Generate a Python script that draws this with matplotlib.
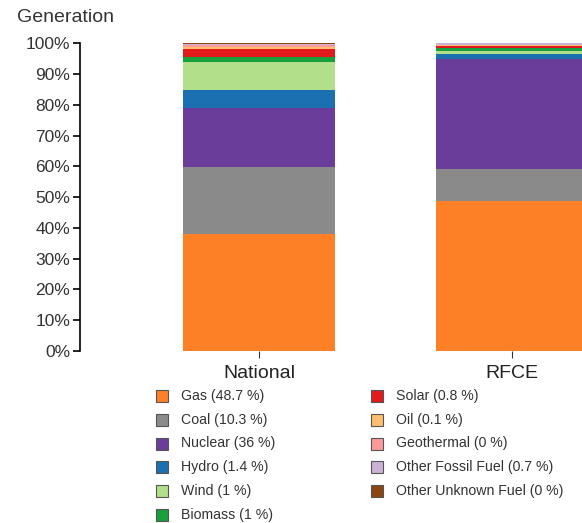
import matplotlib
matplotlib.use("Agg")
import matplotlib.pyplot as plt
from matplotlib.patches import Rectangle

plt.rcParams['font.family'] = ['Liberation Sans', 'DejaVu Sans']

regions = ["National", "RFCE"]
fuels = ["Gas", "Coal", "Nuclear", "Hydro", "Wind", "Biomass",
         "Solar", "Oil", "Geothermal", "Other Fossil Fuel", "Other Unknown Fuel"]
colors = ["#fe8026", "#8a8a8a", "#6a3d9a", "#1a70b0", "#b2df8a", "#17a03c",
          "#e31a1c", "#fdbf6f", "#fb9a99", "#cab2d6", "#8b4513"]
national = [37.9, 22.0, 19.1, 5.9, 9.1, 1.4, 2.7, 0.8, 0.4, 0.5, 0.2]
rfce = [48.7, 10.3, 36, 1.4, 1, 1, 0.8, 0.1, 0, 0.7, 0]
yticks = list(range(0, 101, 10))

W, H = 582, 523
fig = plt.figure(figsize=(W / 100, H / 100), dpi=100)
ax = fig.add_axes([80 / W, 1 - 351 / H, (W - 80) / W, (351 - 43.3) / H])

data = [national, rfce]
xs = list(range(len(regions)))
for xi, vals in zip(xs, data):
    bottom = 0
    for v, c in zip(vals, colors):
        ax.bar(xi, v, bottom=bottom, width=0.6, color=c, linewidth=0)
        bottom += v

ax.set_xlim((80 - 259) / 253, (582 - 259) / 253)
ax.set_ylim(0, 100)
ax.set_yticks(yticks)
ax.set_yticklabels([f"{t}%" for t in yticks], fontsize=12.5, color="#333333")
ax.set_xticks(xs)
ax.set_xticklabels(regions, fontsize=14, color="#222222")
for s in ["top", "right", "bottom"]:
    ax.spines[s].set_visible(False)
ax.spines["left"].set_linewidth(1.2)
ax.tick_params(axis="y", length=5, width=1.2, pad=2)
ax.tick_params(axis="x", length=5, width=0.8, color="#333333", pad=5)

fig.text(17 / W, 1 - 17 / H, "Generation", fontsize=14, color="#333333",
         va="center", ha="left")

# legend overlay in pixel coordinates
lax = fig.add_axes([0, 0, 1, 1])
lax.set_xlim(0, W)
lax.set_ylim(H, 0)
lax.axis("off")

def fmt(v):
    return f"{v:g}"

n1 = 6
for i, (f, c, v) in enumerate(zip(fuels, colors, rfce)):
    col = 0 if i < n1 else 1
    row = i if i < n1 else i - n1
    yc = 395.7 + row * 23.9
    sx = 156 if col == 0 else 371
    tx = 181 if col == 0 else 396
    lax.add_patch(Rectangle((sx, yc - 6), 12, 12, facecolor=c,
                            edgecolor="#555555", linewidth=0.8))
    lax.text(tx, yc, f"{f} ({fmt(v)} %)", fontsize=10.2, color="#333333",
             va="center", ha="left")

fig.savefig("out.png", dpi=100)
